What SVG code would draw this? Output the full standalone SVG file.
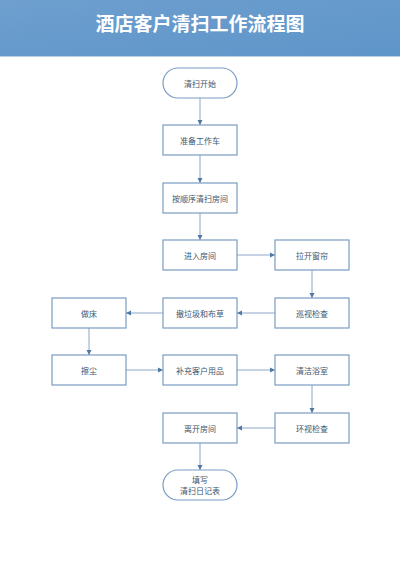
<svg xmlns="http://www.w3.org/2000/svg" width="400" height="566" viewBox="0 0 400 566">
<defs>
<linearGradient id="hg" x1="0" y1="0" x2="1" y2="1">
<stop offset="0" stop-color="#6e9fcf"/>
<stop offset="1" stop-color="#5e95c9"/>
</linearGradient>
<marker id="ah" markerWidth="6" markerHeight="6" refX="5" refY="3" orient="auto" markerUnits="userSpaceOnUse">
<path d="M0,0.5 L5,3 L0,5.5 Z" fill="#4f78a3"/>
</marker>
<style>
.n{fill:#fff;stroke:#7a9cc2;stroke-width:1.2}
.t{font-family:"Noto Sans CJK SC","Noto Sans",sans-serif;font-size:8px;fill:#3d5670;text-anchor:middle;dominant-baseline:central}
.c{fill:none;stroke:#8aa7c7;stroke-width:1;marker-end:url(#ah)}
</style>
</defs>
<rect width="400" height="566" fill="#fff"/>
<rect width="400" height="56" fill="url(#hg)"/>
<rect y="56" width="400" height="1" fill="#b9d0e8"/>
<text x="200" y="22" font-family="'Noto Sans CJK SC',sans-serif" font-size="19" font-weight="bold" fill="#fff" text-anchor="middle" dominant-baseline="central">酒店客户清扫工作流程图</text>
<g id="connectors">
<line class="c" x1="200" y1="98" x2="200" y2="125"/>
<line class="c" x1="200" y1="155" x2="200" y2="183"/>
<line class="c" x1="200" y1="213" x2="200" y2="240"/>
<line class="c" x1="237" y1="255" x2="275" y2="255"/>
<line class="c" x1="312" y1="270" x2="312" y2="298"/>
<line class="c" x1="275" y1="313" x2="237" y2="313"/>
<line class="c" x1="163" y1="313" x2="126" y2="313"/>
<line class="c" x1="89" y1="328" x2="89" y2="355"/>
<line class="c" x1="126" y1="370" x2="163" y2="370"/>
<line class="c" x1="237" y1="370" x2="275" y2="370"/>
<line class="c" x1="312" y1="385" x2="312" y2="413"/>
<line class="c" x1="275" y1="428" x2="237" y2="428"/>
<line class="c" x1="200" y1="443" x2="200" y2="470"/>
</g>
<g id="start"><rect class="n" x="163" y="68" width="74" height="30" rx="15"/><text class="t" x="200" y="83">清扫开始</text></g>
<g id="prep"><rect class="n" x="163" y="125" width="74" height="30"/><text class="t" x="200" y="140">准备工作车</text></g>
<g id="order"><rect class="n" x="163" y="183" width="74" height="30"/><text class="t" x="200" y="198">按顺序清扫房间</text></g>
<g id="enter"><rect class="n" x="163" y="240" width="74" height="30"/><text class="t" x="200" y="255">进入房间</text></g>
<g id="curtain"><rect class="n" x="275" y="240" width="74" height="30"/><text class="t" x="312" y="255">拉开窗帘</text></g>
<g id="patrol"><rect class="n" x="275" y="298" width="74" height="30"/><text class="t" x="312" y="313">巡视检查</text></g>
<g id="trash"><rect class="n" x="163" y="298" width="74" height="30"/><text class="t" x="200" y="313">撤垃圾和布草</text></g>
<g id="bed"><rect class="n" x="52" y="298" width="74" height="30"/><text class="t" x="89" y="313">做床</text></g>
<g id="dust"><rect class="n" x="52" y="355" width="74" height="30"/><text class="t" x="89" y="370">擦尘</text></g>
<g id="supply"><rect class="n" x="163" y="355" width="74" height="30"/><text class="t" x="200" y="370">补充客户用品</text></g>
<g id="bath"><rect class="n" x="275" y="355" width="74" height="30"/><text class="t" x="312" y="370">清洁浴室</text></g>
<g id="lookaround"><rect class="n" x="275" y="413" width="74" height="30"/><text class="t" x="312" y="428">环视检查</text></g>
<g id="leave"><rect class="n" x="163" y="413" width="74" height="30"/><text class="t" x="200" y="428">离开房间</text></g>
<g id="end"><rect class="n" x="163" y="470" width="74" height="30" rx="15"/><text class="t" x="200" y="479">填写</text><text class="t" x="200" y="490">清扫日记表</text></g>
</svg>
